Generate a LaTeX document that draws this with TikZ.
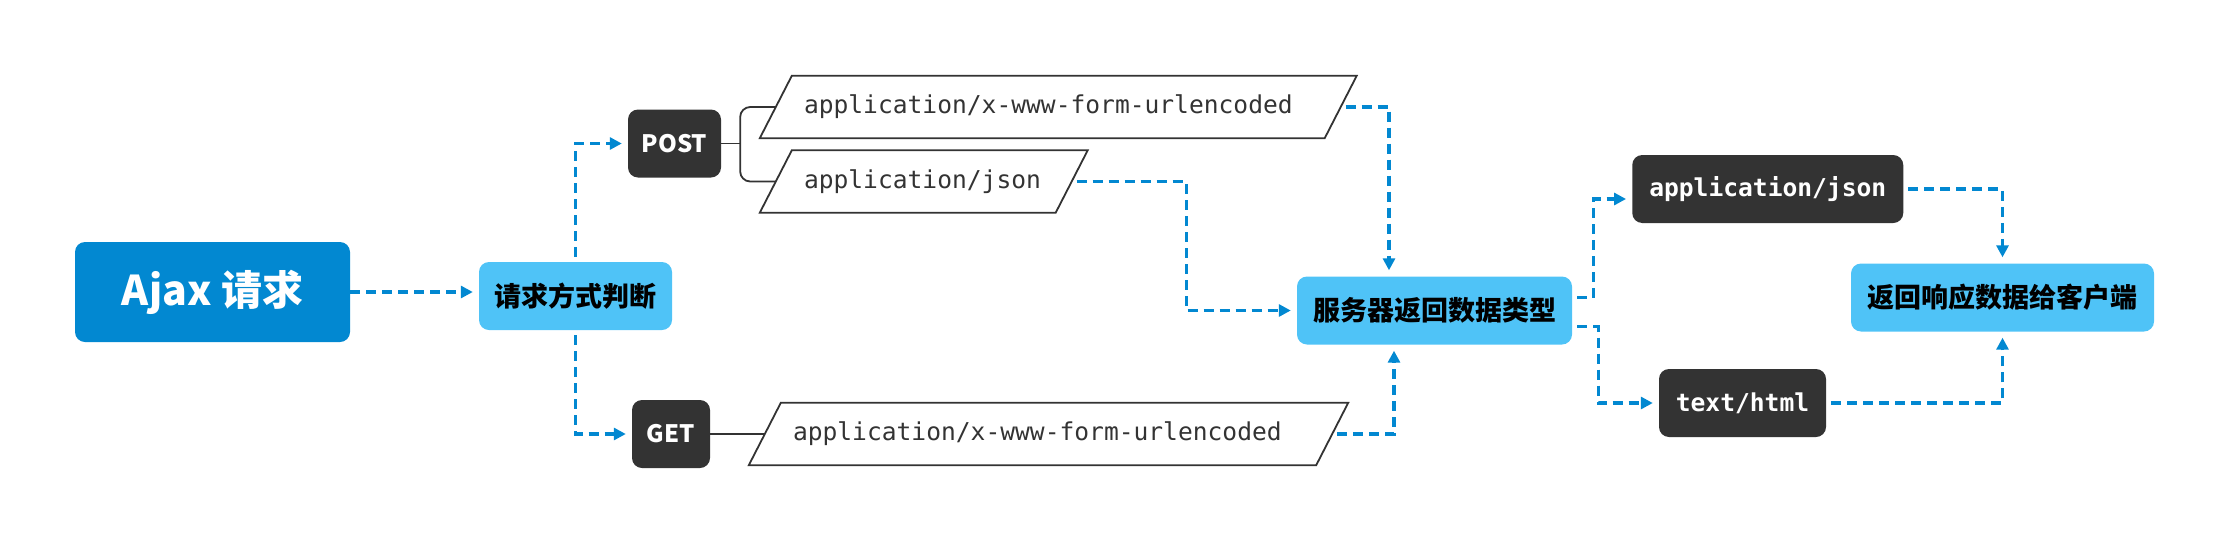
\documentclass[tikz,border=0pt]{standalone}
\usepackage{fontspec}
\setmainfont{Noto Sans}
\newfontfamily\cjk{Noto Sans CJK SC}
\newfontfamily\codefont{DejaVu Sans Mono}
\usetikzlibrary{arrows.meta}

\definecolor{mainblue}{HTML}{0288D1}
\definecolor{skyblue}{HTML}{4FC3F7}
\definecolor{darkbg}{HTML}{333333}
\definecolor{linegray}{HTML}{333333}

\begin{document}
\begin{tikzpicture}[x=1pt, y=-1pt,
    mainbox/.style={fill=mainblue, rounded corners=10pt, text=white, minimum width=275pt, minimum height=100pt, inner sep=0pt, font=\cjk\bfseries\fontsize{41}{46}\selectfont},
    lightbox/.style={fill=skyblue, rounded corners=10pt, minimum height=68pt, inner sep=0pt, font=\cjk\bfseries\fontsize{27}{30}\selectfont},
    darkbox/.style={fill=darkbg, rounded corners=10pt, text=white, minimum height=68pt, inner sep=0pt, font=\cjk\bfseries\fontsize{24}{27}\selectfont},
    codedark/.style={darkbox, font=\codefont\bfseries\fontsize{24.6}{28}\selectfont},
    codebox/.style={inner xsep=28pt, inner ysep=0pt, minimum height=62pt, align=left, text=linegray, font=\codefont\fontsize{24.6}{28}\selectfont},
    paraline/.style={draw=linegray, line width=1.8pt},
    flow/.style={draw=mainblue, line width=3.2pt, dash pattern=on 10pt off 6pt, shorten <=5pt, shorten >=6pt, -{Triangle[length=12pt, width=12pt]}}]

    \useasboundingbox (0,0) rectangle (2227,544);

    % request side
    \node[mainbox] (ajax) at (212.5,292) {Ajax 请求};
    \node[lightbox, minimum width=193pt] (judge) at (575.5,296) {请求方式判断};
    \node[darkbox, minimum width=93pt] (post) at (674.5,143.5) {POST};
    \node[darkbox, minimum width=78pt] (get) at (671,434) {GET};

    % content types sent
    \node[codebox, text width=508.5pt] (form1) at (1058.25,107) {application/x-www-form-urlencoded};
    \node[codebox, text width=239.5pt] (json1) at (923.75,181.5) {application/json};
    \node[codebox, text width=511pt] (form2) at (1048.5,434) {application/x-www-form-urlencoded};
    \foreach \p in {form1,json1,form2}
        \draw[paraline] ([xshift=-16pt]\p.south west) -- ([xshift=-16pt]\p.south east)
            -- ([xshift=16pt]\p.north east) -- ([xshift=16pt]\p.north west) -- cycle;

    % response side
    \node[lightbox, minimum width=275pt] (server) at (1434.5,310.5) {服务器返回数据类型};
    \node[codedark, minimum width=271pt] (resjson) at (1767.75,189) {application/json};
    \node[codedark, minimum width=167pt] (reshtml) at (1742.5,403) {text/html};
    \node[lightbox, minimum width=303pt] (client) at (2002.5,297.5) {返回响应数据给客户端};

    % connectors
    \draw[flow, shorten <=0pt] (ajax.east) -- (ajax.east -| judge.west);
    \draw[flow] (judge.north) |- (post.west);
    \draw[flow] (judge.south) |- (get.west);
    \draw[paraline] (post.east) -- ++(19,0);
    \draw[paraline, rounded corners=10pt] (form1.west) -| ([xshift=19pt]post.east) |- (json1.west);
    \draw[paraline] (get.east) -- (form2.west);
    \draw[flow] (form1.east) -| ([xshift=-45.5pt]server.north);
    \draw[flow] (json1.east) -- ++(114.5,0) |- (server.west);
    \draw[flow] (form2.east) -| ([xshift=-40.5pt]server.south);
    \draw[flow] ([yshift=13pt]server.east) -- ++(21,0) |- ([yshift=-10pt]resjson.west);
    \draw[flow] ([yshift=-16pt]server.east) -- ++(26,0) |- (reshtml.west);
    \draw[flow] (resjson.east) -| (client.north);
    \draw[flow] (reshtml.east) -| (client.south);
\end{tikzpicture}
\end{document}
